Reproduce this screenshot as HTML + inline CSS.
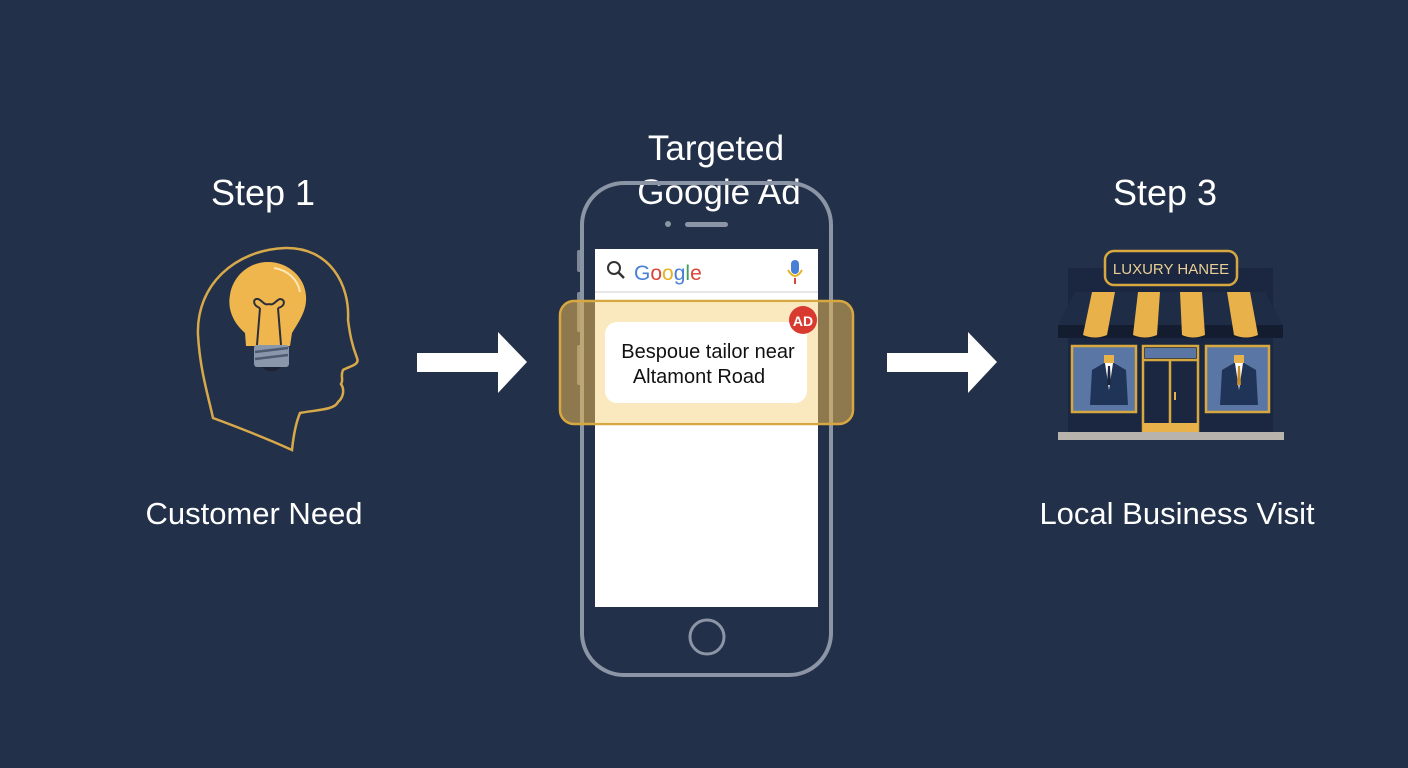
<!DOCTYPE html>
<html><head><meta charset="utf-8"><style>
html,body{margin:0;padding:0;background:#22304a;}
svg{display:block}
text{font-family:"Liberation Sans",sans-serif;}
</style></head><body>
<svg width="1408" height="768" viewBox="0 0 1408 768" xmlns="http://www.w3.org/2000/svg">
<rect width="1408" height="768" fill="#223049"/>
<!-- titles -->
<g fill="#fff" text-anchor="middle">
<text x="263" y="205" font-size="36">Step 1</text>
<text x="1165" y="205" font-size="36">Step 3</text>
<text x="716" y="160" font-size="35">Targeted</text>
<text x="719" y="204" font-size="35">Google Ad</text>
<text x="254" y="524" font-size="31">Customer Need</text>
<text x="1177" y="524" font-size="31">Local Business Visit</text>
</g>
<!-- head -->
<path d="M213,418 C208,395 200,370 198,335 C196,285 235,250 285,248 C330,247 350,285 348,320 C350,335 352,345 357,358 C360,365 350,366 343,370 C340,376 344,380 341,384 C345,390 343,398 338,402 C335,410 315,410 300,413 C295,425 293,440 292,450 C270,440 240,428 213,418 Z" fill="none" stroke="#d7a94a" stroke-width="2.5"/>
<!-- bulb -->
<path d="M245,333 C230,320 228,305 230,295 C233,275 250,262 268,262 C288,262 305,277 306,296 C307,310 300,320 292,333 L290,346 L246,346 Z" fill="#f0b64e"/>
<path d="M274,268 C288,270 298,280 300,292" fill="none" stroke="#fde7b8" stroke-width="2"/>
<path d="M257,345 L260,308 M281,345 L278,308 M260,308 C252,305 253,298 258,299 C262,300 264,306 269,304 C274,306 276,300 280,299 C285,299 286,306 278,308" fill="none" stroke="#2a2f3a" stroke-width="2"/>
<rect x="254" y="345" width="35" height="22" rx="3" fill="#8a97ab"/>
<path d="M255,352 L288,348 M255,359 L288,355" stroke="#4d5a70" stroke-width="2.5"/>
<path d="M262,367 Q271,376 281,367 Z" fill="#1b2436"/>
<!-- arrows -->
<path d="M417,353 L498,353 L498,332 L527,362 L498,393 L498,372 L417,372 Z" fill="#fff"/>
<path d="M887,353 L968,353 L968,332 L997,362 L968,393 L968,372 L887,372 Z" fill="#fff"/>
<!-- phone -->
<rect x="577" y="250" width="5" height="22" rx="2" fill="#7d8798"/>
<rect x="577" y="292" width="5" height="40" rx="2" fill="#7d8798"/>
<rect x="577" y="345" width="5" height="40" rx="2" fill="#7d8798"/>
<rect x="582" y="183" width="249" height="492" rx="42" fill="none" stroke="#8c95a5" stroke-width="4"/>
<circle cx="668" cy="224" r="3" fill="#8c95a5"/>
<rect x="685" y="222" width="43" height="5" rx="2.5" fill="#8c95a5"/>
<rect x="595" y="249" width="223" height="358" fill="#fff"/>
<circle cx="707" cy="637" r="17" fill="none" stroke="#8c95a5" stroke-width="3"/>
<line x1="595" y1="292" x2="818" y2="292" stroke="#e6e6e6" stroke-width="2"/>
<circle cx="614" cy="268" r="6" fill="none" stroke="#333" stroke-width="2"/>
<line x1="618" y1="272" x2="624" y2="278" stroke="#333" stroke-width="2.5"/>
<text x="634" y="280" font-size="21"><tspan fill="#4a7fd6">G</tspan><tspan fill="#d9453a">o</tspan><tspan fill="#e6b323">o</tspan><tspan fill="#4a7fd6">g</tspan><tspan fill="#3fa055">l</tspan><tspan fill="#d9453a">e</tspan></text>
<rect x="791" y="260" width="8" height="14" rx="4" fill="#4a7fd6"/>
<path d="M788,270 Q795,282 802,270" fill="none" stroke="#e6b323" stroke-width="2"/>
<path d="M795,278 L795,284" stroke="#d9453a" stroke-width="2"/>
<!-- highlight band -->
<rect x="560" y="301" width="293" height="123" rx="14" fill="#e8b550" fill-opacity="0.55" stroke="#d8a840" stroke-width="2.5"/>
<rect x="595" y="302" width="223" height="121" fill="#fbecc6" fill-opacity="0.8"/>
<rect x="605" y="322" width="202" height="81" rx="12" fill="#fff"/>
<text x="708" y="358" font-size="20" fill="#111" text-anchor="middle">Bespoue tailor near</text>
<text x="699" y="383" font-size="20" fill="#111" text-anchor="middle">Altamont Road</text>
<circle cx="803" cy="320" r="14" fill="#d93a2f"/>
<text x="803" y="326" font-size="14" font-weight="bold" fill="#fff" text-anchor="middle">AD</text>
<!-- store -->
<rect x="1068" y="268" width="205" height="164" fill="#1b2740"/>
<path d="M1075,292 L1265,292 L1283,325 L1058,325 Z" fill="#1f2c45"/>
<path d="M1058,325 L1283,325 L1283,338 L1058,338 Z" fill="#141d30"/>
<g fill="#e9b14a">
<path d="M1092,292 L1115,292 L1107,335 Q1095,340 1083,335 Z"/>
<path d="M1138,292 L1160,292 L1157,335 Q1145,340 1133,335 Z"/>
<path d="M1180,292 L1202,292 L1205,335 Q1193,340 1182,335 Z"/>
<path d="M1227,292 L1250,292 L1258,335 Q1246,340 1234,335 Z"/>
</g>
<rect x="1105" y="251" width="132" height="34" rx="9" fill="#1b2740" stroke="#d8a840" stroke-width="2.5"/>
<text x="1171" y="274" font-size="15" fill="#e8cf95" text-anchor="middle">LUXURY HANEE</text>
<rect x="1072" y="346" width="64" height="66" fill="#5a76a4" stroke="#d8a840" stroke-width="2.5"/>
<rect x="1206" y="346" width="63" height="66" fill="#5a76a4" stroke="#d8a840" stroke-width="2.5"/>
<rect x="1143" y="346" width="55" height="86" fill="#1b2740" stroke="#d8a840" stroke-width="2.5"/>
<rect x="1145" y="348" width="51" height="10" fill="#5a76a4"/>
<line x1="1143" y1="360" x2="1198" y2="360" stroke="#d8a840" stroke-width="2.5"/>
<line x1="1170" y1="360" x2="1170" y2="430" stroke="#d8a840" stroke-width="2.5"/>
<rect x="1143" y="423" width="55" height="9" fill="#e9b14a"/>
<rect x="1174" y="392" width="2" height="8" fill="#e9b14a"/>
<g>
<path d="M1092,370 L1104,363 L1114,363 L1126,370 L1128,405 L1090,405 Z" fill="#203457"/>
<path d="M1105,363 L1113,363 L1109,390 Z" fill="#fff"/>
<rect x="1104" y="355" width="10" height="8" fill="#e9b14a"/>
<path d="M1108,366 L1110,366 L1111,385 L1107,385 Z" fill="#1b2740"/>
<path d="M1222,370 L1234,363 L1244,363 L1256,370 L1258,405 L1220,405 Z" fill="#203457"/>
<path d="M1235,363 L1243,363 L1239,390 Z" fill="#fff"/>
<rect x="1234" y="355" width="10" height="8" fill="#e9b14a"/>
<path d="M1238,366 L1240,366 L1241,385 L1237,385 Z" fill="#c58a2a"/>
</g>
<rect x="1058" y="432" width="226" height="8" fill="#b8b4ad"/>
</svg>
</body></html>
